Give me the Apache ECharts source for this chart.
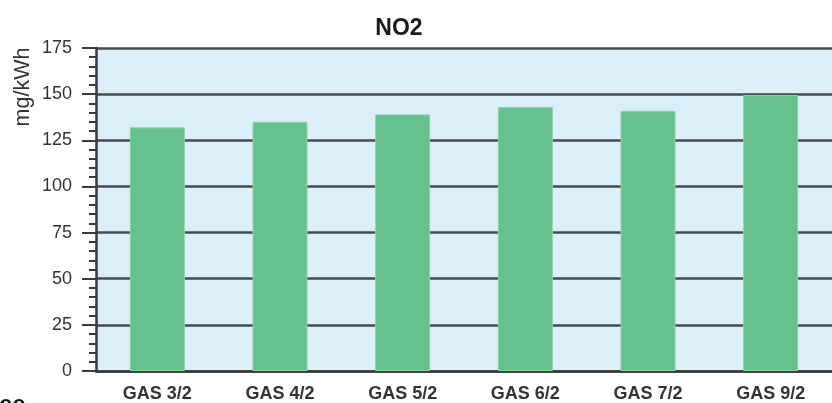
<!DOCTYPE html>
<html>
<head>
<meta charset="utf-8">
<script src="https://cdn.jsdelivr.net/npm/echarts@6/dist/echarts.min.js"></script>
<style>
html,body{margin:0;padding:0;background:#fff;}
#c{width:832px;height:403px;}
</style>
</head>
<body>
<div id="c"></div>
<script>
const categories = ['GAS 3/2', 'GAS 4/2', 'GAS 5/2', 'GAS 6/2', 'GAS 7/2', 'GAS 9/2'];
const no2Values = [132, 135, 139, 143, 141, 149.5];
const yTicks = [0, 25, 50, 75, 100, 125, 150, 175];
const titleText = 'NO2';
const unitText = 'mg/kWh';

const FONT = '"Liberation Sans", Arial, sans-serif';
const chart = echarts.init(document.getElementById('c'));
chart.setOption({
  animation: false,
  title: {
    text: titleText,
    left: 394, top: 12, textAlign: 'center',
    textStyle: {fontFamily: FONT, fontWeight: 'bold', fontSize: 23, color: '#1a1a1a'}
  },
  grid: {left: 96, top: 48, bottom: 32, right: -12, show: true, backgroundColor: '#dbeffb', borderWidth: 0},
  xAxis: {
    type: 'category',
    data: categories,
    boundaryGap: true,
    axisLine: {show: true, lineStyle: {color: '#3a3a3a', width: 2.5}},
    axisTick: {show: false},
    axisLabel: {margin: 14, fontFamily: FONT, fontWeight: 'bold', fontSize: 18, color: '#333'}
  },
  yAxis: {
    type: 'value',
    min: yTicks[0], max: yTicks[yTicks.length - 1], interval: 25,
    axisLine: {show: true, lineStyle: {color: '#3a3a3a', width: 2.5}},
    axisTick: {show: true, length: 14, lineStyle: {color: '#3a3a3a', width: 2}},
    minorTick: {show: true, splitNumber: 5, length: 7, lineStyle: {color: '#3a3a3a', width: 2}},
    splitLine: {show: true, lineStyle: {color: '#4a4a4a', width: 2.5}},
    axisLabel: {margin: 24, fontFamily: FONT, fontSize: 18, color: '#333'}
  },
  graphic: [
    {type: 'text', x: 23, y: 87, rotation: Math.PI / 2,
     style: {text: unitText, fontFamily: FONT, fontSize: 21.5, fill: '#333', textAlign: 'center', textVerticalAlign: 'middle'}},
    {type: 'text', x: -1, y: 405,
     style: {text: 'ee', fontFamily: FONT, fontWeight: 'bold', fontSize: 24, fill: '#111', textAlign: 'left', textVerticalAlign: 'middle'}}
  ],
  series: [{
    type: 'bar',
    data: no2Values,
    barWidth: 55,
    itemStyle: {color: '#66c18c', borderColor: '#8fd3ab', borderWidth: 1},
    z: 3
  }]
});
</script>
</body>
</html>
